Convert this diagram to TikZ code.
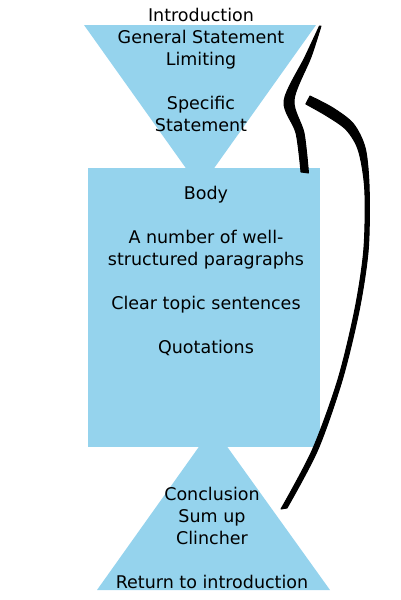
\documentclass[tikz,border=0pt]{standalone}
\usepackage{fontspec}
\setmainfont{DejaVu Sans}
\definecolor{paleblue}{RGB}{149,211,237}

\begin{document}
\begin{tikzpicture}[line cap=round,line join=round,x=1pt,y=-1pt,
  blurb/.style={align=center,anchor=base,font=\fontsize{17.5}{22}\selectfont}]
\useasboundingbox (0,0) rectangle (400,600);
% blue shapes
\fill[paleblue] (84,25) -- (316,25) -- (200,188) -- cycle;
\fill[paleblue] (88,168) rectangle (320,447);
\fill[paleblue] (213,427) -- (330,590) -- (97,590) -- cycle;
% texts (base = last line)
\node[blurb] (intro) at (201,131.5) {Introduction\\General Statement\\Limiting\\[22pt]Specific\\Statement};
\node[blurb] (body) at (206,353.5) {Body\\[22pt]A number of well-\\structured paragraphs\\[22pt]Clear topic sentences\\[22pt]Quotations};
\node[blurb] (concl) at (212,588.5) {Conclusion\\Sum up\\Clincher\\[22pt]Return to introduction};
% brush strokes
\filldraw[line width=1pt] plot[smooth] coordinates {(319.5,26) (305,57) (284,101) (296,133) (301,172)}
  -- plot[smooth] coordinates {(308.5,173) (304,133) (294,100) (311,57) (321,26)} -- cycle;
\filldraw[line width=1pt] plot[smooth] coordinates {(310,96) (333,108) (353.5,124) (365.4,149) (369.2,190) (368.2,250) (359.2,310) (342.2,380) (317.7,450) (287,508)}
  -- plot[smooth] coordinates {(281,509) (312.3,450) (337.8,380) (354.8,310) (363.8,250) (364.8,190) (358.6,151) (346.5,130) (327,116) (305.8,104)} -- cycle;
\end{tikzpicture}
\end{document}
